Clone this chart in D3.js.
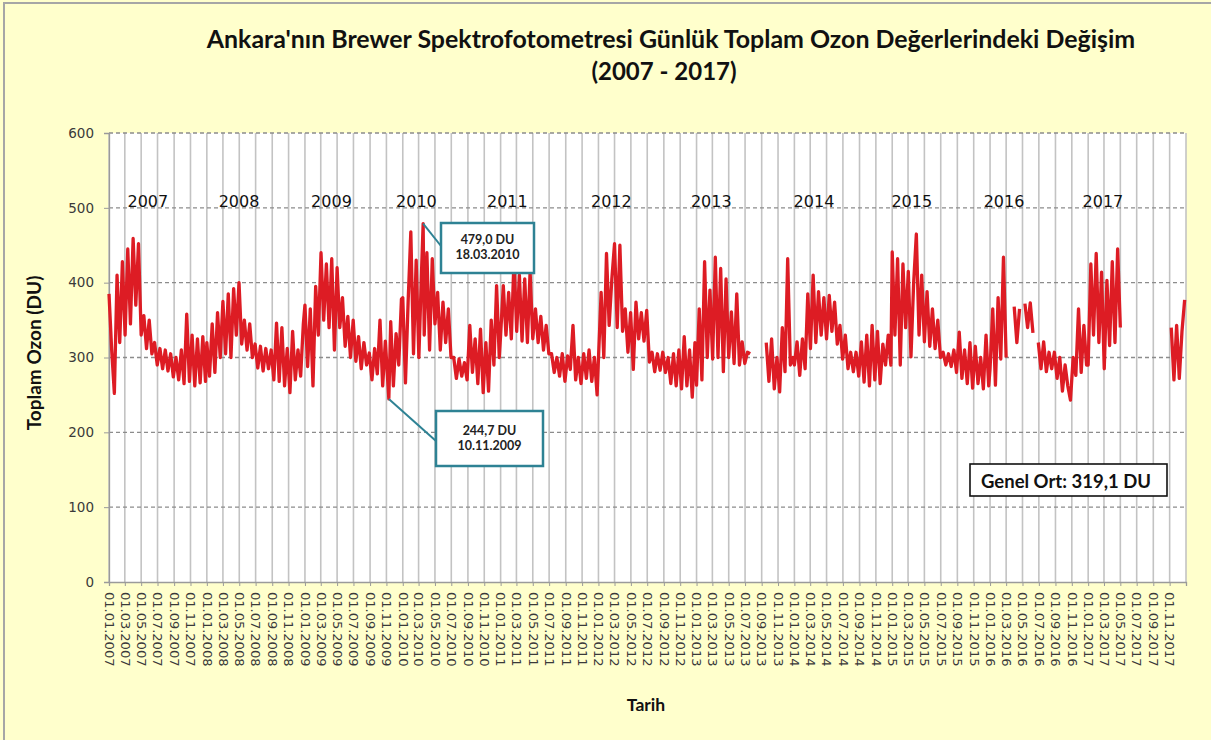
<!DOCTYPE html>
<html>
<head>
<meta charset="utf-8">
<script src="https://cdn.jsdelivr.net/npm/d3@7/dist/d3.min.js"></script>
<style>
  body { margin: 0; background: #ffffcc; }
  svg { display: block; }
</style>
</head>
<body>
<svg id="chart" width="1211" height="740"></svg>
<script>
// daily total ozone, one value every 10 days from 1 Jan (null = no data)
const years = [2007, 2008, 2009, 2010, 2011, 2012, 2013, 2014, 2015, 2016, 2017];
const ozone2007 = [385,310,252,410,320,428,330,445,345,459,370,452,330,356,312,350,305,320,290,312,285,310,282,305,274,300,270,310,265,358,268,330,262,325,266,328,268];
const ozone2008 = [320,275,345,280,360,300,375,305,385,300,392,330,400,318,350,310,345,300,318,286,315,282,312,285,310,270,346,268,340,262,312,253,335,270,310,275,345];
const ozone2009 = [370,288,365,262,395,330,440,350,425,340,432,310,420,340,380,315,355,300,350,295,328,285,320,290,306,270,312,278,350,262,322,262,348,262,332,290,378];
const ozone2010 = [380,266,375,468,305,430,300,415,330,440,310,432,345,387,310,374,320,365,300,300,272,298,275,293,270,343,280,325,265,338,253,320,255,350,290,396,300];
const ozone2011 = [330,396,330,387,325,432,335,410,322,405,320,415,325,365,320,355,310,343,305,305,280,300,275,305,268,302,284,343,270,300,265,305,272,310,268,300,250];
const ozone2012 = [298,387,300,439,343,405,452,340,450,335,365,307,360,284,374,325,360,322,363,294,307,281,305,283,307,280,300,265,305,262,310,258,328,262,310,247,320];
const ozone2013 = [263,365,270,428,300,390,298,434,300,419,281,405,300,361,292,385,290,321,292,307,305,null,null,null,null,null,320,268,325,258,300,254,340,281,432,290,300];
const ozone2014 = [290,321,276,325,285,385,312,410,320,388,330,380,325,383,335,374,318,343,298,330,285,307,281,307,275,321,267,330,262,343,270,335,265,318,290,330,290];
const ozone2015 = [441,330,432,290,425,340,415,301,400,465,330,410,321,388,315,365,312,350,300,307,290,305,288,310,280,334,272,310,265,320,259,315,265,300,258,330,262];
const ozone2016 = [285,365,263,380,298,434,300,null,null,368,320,365,null,372,340,373,333,null,320,285,321,281,307,285,307,272,300,255,290,262,243,300,276,365,280,343,290];
const ozone2017 = [290,425,330,439,320,414,285,403,316,428,320,445,340,null,null,null,null,null,null,null,null,null,null,null,null,null,null,null,null,null,null,340,270,343,272,335,377];
const ozoneByYear = [ozone2007, ozone2008, ozone2009, ozone2010, ozone2011, ozone2012, ozone2013, ozone2014, ozone2015, ozone2016, ozone2017];

// extremes marked with callouts
const extremeDates = ["2010-03-18", "2009-11-10"];
const extremeValues = [479.0, 244.7];
const extremeLabels = [["479,0 DU", "18.03.2010"], ["244,7 DU", "10.11.2009"]];

// where each year label sits on the time axis
const yearLabelDates = ["2007-05-26","2008-04-30","2009-04-10","2010-02-21","2011-01-26","2012-02-18","2013-02-25","2014-03-15","2015-03-15","2016-02-22","2017-02-25"];

const yTicks = [0, 100, 200, 300, 400, 500, 600];
const meanText = "Genel Ort: 319,1 DU";

const parse = d3.timeParse("%Y-%m-%d");
const fmt = d3.timeFormat("%d.%m.%Y");

let data = [];
years.forEach((yr, k) => {
  ozoneByYear[k].forEach((v, i) => {
    data.push({ date: new Date(yr, 0, 1 + 10 * i), v: v });
  });
});
extremeDates.forEach((d, i) => data.push({ date: parse(d), v: extremeValues[i] }));
data.sort((a, b) => a.date - b.date);

const svg = d3.select("#chart");
const plotL = 109, plotR = 1186, plotT = 133, plotB = 582;

const x = d3.scaleTime()
    .domain([new Date(2007, 0, 1), new Date(2018, 0, 1)])
    .range([plotL, plotR]);
const y = d3.scaleLinear()
    .domain([0, 600])
    .range([plotB, plotT]);

// chart area border (only top/left visible in the crop)
svg.append("rect")
    .attr("x", 4).attr("y", 3)
    .attr("width", 1260).attr("height", 800)
    .attr("fill", "#ffffcc")
    .attr("stroke", "#a6a6a6").attr("stroke-width", 2);

// plot area
svg.append("rect")
    .attr("x", plotL).attr("y", plotT)
    .attr("width", plotR - plotL).attr("height", plotB - plotT)
    .attr("fill", "#ffffff");

const monthTicks = d3.timeMonth.every(2).range(new Date(2007, 0, 1), new Date(2018, 0, 2));

// vertical grid
svg.append("g")
    .selectAll("line")
    .data(monthTicks)
    .enter()
    .append("line")
    .attr("x1", d => x(d)).attr("x2", d => x(d))
    .attr("y1", plotT).attr("y2", plotB)
    .attr("stroke", "#c3c3c3")
    .attr("stroke-width", 1.6);

// horizontal dashed grid
svg.append("g")
    .selectAll("line")
    .data(yTicks.filter(t => t > 0))
    .enter()
    .append("line")
    .attr("x1", plotL).attr("x2", plotR)
    .attr("y1", d => y(d)).attr("y2", d => y(d))
    .attr("stroke", "#8c8c8c")
    .attr("stroke-width", 1.3)
    .attr("stroke-dasharray", "4,3");

// y axis
const yAxis = d3.axisLeft(y).tickValues(yTicks).tickSize(5).tickPadding(10);
const gy = svg.append("g")
    .attr("transform", "translate(" + plotL + ",0)")
    .call(yAxis);
gy.select(".domain").attr("stroke", "#9a9a9a").attr("stroke-width", 1.3);
gy.selectAll(".tick line").attr("stroke", "#9a9a9a");
gy.selectAll("text")
    .attr("font-family", "DejaVu Sans")
    .attr("font-size", 13.5)
    .attr("fill", "#3a3a3a");

// x axis
const labelTicks = monthTicks.filter(d => d < new Date(2017, 11, 31));
const xAxis = d3.axisBottom(x).tickValues(labelTicks).tickSize(4).tickFormat(fmt);
const gx = svg.append("g")
    .attr("transform", "translate(0," + plotB + ")")
    .call(xAxis);
gx.select(".domain").attr("stroke", "#9a9a9a").attr("stroke-width", 1.3);
gx.selectAll(".tick line").attr("stroke", "#9a9a9a");
gx.selectAll("text")
    .attr("font-family", "DejaVu Sans")
    .attr("font-size", 13)
    .attr("fill", "#3a3a3a")
    .attr("text-anchor", "start")
    .attr("transform", "rotate(90)")
    .attr("x", 10)
    .attr("y", 0)
    .attr("dy", "0.36em");

// ozone line
const line = d3.line()
    .defined(d => d.v != null)
    .x(d => x(d.date))
    .y(d => y(d.v));
svg.append("path")
    .datum(data)
    .attr("d", line)
    .attr("fill", "none")
    .attr("stroke", "#dd1c24")
    .attr("stroke-width", 3.3)
    .attr("stroke-linejoin", "round");

// year labels
svg.append("g")
    .selectAll("text")
    .data(years)
    .enter()
    .append("text")
    .attr("x", (d, i) => x(parse(yearLabelDates[i])))
    .attr("y", 207)
    .attr("text-anchor", "middle")
    .attr("font-family", "DejaVu Sans")
    .attr("font-size", 16)
    .attr("fill", "#111")
    .text(d => d);

// callouts
const boxes = [
  { x: 441, y: 223, w: 93, h: 50, ax: 441, ay: 246 },
  { x: 436, y: 411, w: 107, h: 55, ax: 436, ay: 441 }
];
boxes.forEach((b, i) => {
  const px = x(parse(extremeDates[i])), py = y(extremeValues[i]);
  svg.append("line")
      .attr("x1", px).attr("y1", py)
      .attr("x2", b.ax).attr("y2", b.ay)
      .attr("stroke", "#2e8294").attr("stroke-width", 2);
  svg.append("rect")
      .attr("x", b.x).attr("y", b.y)
      .attr("width", b.w).attr("height", b.h)
      .attr("fill", "#fff")
      .attr("stroke", "#2e8294").attr("stroke-width", 2.5);
  extremeLabels[i].forEach((t, j) => {
    svg.append("text")
        .attr("x", b.x + b.w / 2)
        .attr("y", b.y + b.h / 2 - 4 + j * 15)
        .attr("text-anchor", "middle")
        .attr("font-family", "Lato")
        .attr("font-weight", "bold")
        .attr("font-size", 12.5)
        .attr("fill", "#222")
        .text(t);
  });
});

// overall mean box
svg.append("rect")
    .attr("x", 970).attr("y", 464)
    .attr("width", 197).attr("height", 32)
    .attr("fill", "#fff")
    .attr("stroke", "#111").attr("stroke-width", 1.6);
svg.append("text")
    .attr("x", 1066).attr("y", 488)
    .attr("text-anchor", "middle")
    .attr("font-family", "Lato")
    .attr("font-weight", "bold")
    .attr("font-size", 18.5)
    .attr("fill", "#111")
    .text(meanText);

// titles
function fitText(sel, target) {
  const w = sel.node().getComputedTextLength();
  const fs = parseFloat(sel.attr("font-size"));
  sel.attr("font-size", fs * target / w);
}
const title = svg.append("text")
    .attr("x", 671).attr("y", 48)
    .attr("text-anchor", "middle")
    .attr("font-family", "Lato")
    .attr("font-weight", "bold")
    .attr("font-size", 22)
    .attr("fill", "#111")
    .text("Ankara'nın Brewer Spektrofotometresi Günlük Toplam Ozon Değerlerindeki Değişim");
fitText(title, 929);

svg.append("text")
    .attr("x", 664).attr("y", 80)
    .attr("text-anchor", "middle")
    .attr("font-family", "Lato")
    .attr("font-weight", "bold")
    .attr("font-size", 24)
    .attr("fill", "#111")
    .text("(2007 - 2017)");

svg.append("text")
    .attr("transform", "translate(41,353) rotate(-90)")
    .attr("text-anchor", "middle")
    .attr("font-family", "Lato")
    .attr("font-weight", "bold")
    .attr("font-size", 19)
    .attr("fill", "#111")
    .text("Toplam Ozon (DU)");

svg.append("text")
    .attr("x", 646).attr("y", 711)
    .attr("text-anchor", "middle")
    .attr("font-family", "Lato")
    .attr("font-weight", "bold")
    .attr("font-size", 17.5)
    .attr("fill", "#111")
    .text("Tarih");
</script>
</body>
</html>
